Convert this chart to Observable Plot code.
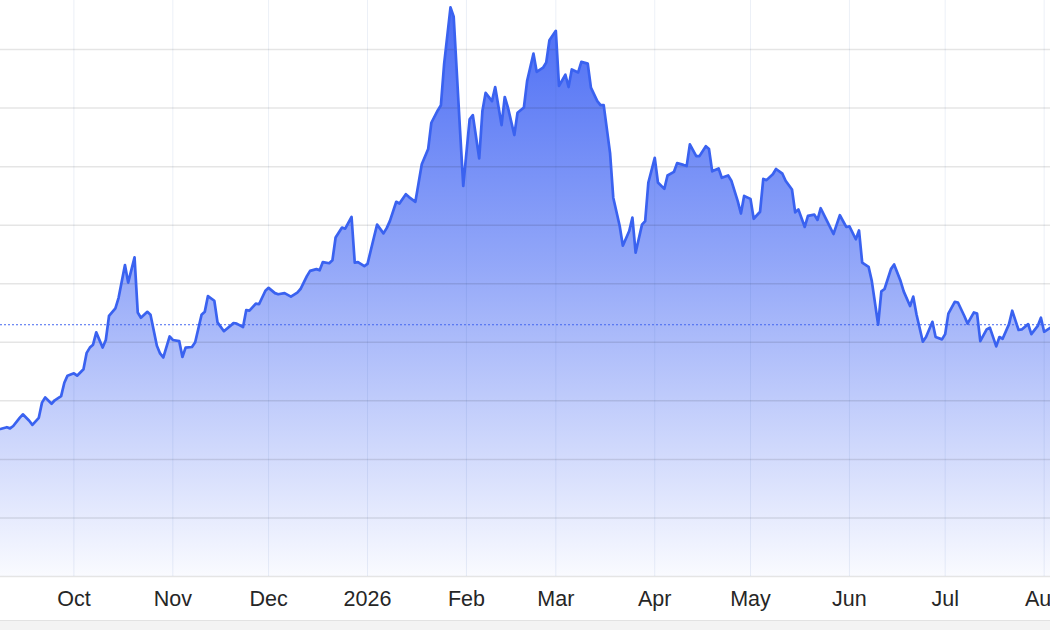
<!DOCTYPE html>
<html>
<head>
<meta charset="utf-8">
<script src="https://cdn.jsdelivr.net/npm/d3@7"></script>
<script src="https://cdn.jsdelivr.net/npm/@observablehq/plot@0.6"></script>
<style>
html, body { margin: 0; padding: 0; background: #fff; overflow: hidden; width: 1050px; height: 630px; }
#chart svg { display: block; }
.band { height: 10px; background: #f3f3f3; border-top: 1px solid #e2e2e2; box-sizing: border-box; }
</style>
</head>
<body>
<div id="chart"></div>
<div class="band"></div>
<script>
// ---- data ----
const dates = [
"2025-09-08","2025-09-10","2025-09-11","2025-09-12","2025-09-14","2025-09-15","2025-09-17","2025-09-18","2025-09-20","2025-09-21",
"2025-09-22","2025-09-24","2025-09-25","2025-09-27","2025-09-28","2025-09-29","2025-10-01","2025-10-02","2025-10-04","2025-10-05",
"2025-10-06","2025-10-07","2025-10-08","2025-10-10","2025-10-11","2025-10-12","2025-10-14","2025-10-15","2025-10-17","2025-10-18",
"2025-10-20","2025-10-21","2025-10-22","2025-10-24","2025-10-25","2025-10-27","2025-10-28","2025-10-29","2025-10-31","2025-11-01",
"2025-11-03","2025-11-04","2025-11-05","2025-11-07","2025-11-08","2025-11-10","2025-11-11","2025-11-12","2025-11-14","2025-11-15",
"2025-11-17","2025-11-19","2025-11-20","2025-11-21","2025-11-23","2025-11-24","2025-11-25","2025-11-27","2025-11-28","2025-11-30",
"2025-12-01","2025-12-03","2025-12-04","2025-12-06","2025-12-07","2025-12-08","2025-12-10","2025-12-11","2025-12-13","2025-12-14",
"2025-12-16","2025-12-17","2025-12-18","2025-12-20","2025-12-21","2025-12-22","2025-12-24","2025-12-25","2025-12-27","2025-12-28",
"2025-12-29","2025-12-31","2026-01-01","2026-01-03","2026-01-04","2026-01-06","2026-01-07","2026-01-08","2026-01-10","2026-01-11",
"2026-01-13","2026-01-14","2026-01-16","2026-01-17","2026-01-18","2026-01-20","2026-01-21","2026-01-23","2026-01-24","2026-01-25",
"2026-01-27","2026-01-28","2026-01-30","2026-01-31","2026-02-02","2026-02-03","2026-02-05","2026-02-06","2026-02-07","2026-02-09",
"2026-02-10","2026-02-12","2026-02-13","2026-02-14","2026-02-16","2026-02-17","2026-02-19","2026-02-20","2026-02-22","2026-02-23",
"2026-02-25","2026-02-26","2026-02-27","2026-03-01","2026-03-02","2026-03-04","2026-03-05","2026-03-06","2026-03-08","2026-03-09",
"2026-03-11","2026-03-12","2026-03-14","2026-03-15","2026-03-16","2026-03-18","2026-03-19","2026-03-21","2026-03-22","2026-03-24",
"2026-03-25","2026-03-26","2026-03-28","2026-03-29","2026-03-30","2026-04-01","2026-04-02","2026-04-04","2026-04-05","2026-04-07",
"2026-04-08","2026-04-10","2026-04-11","2026-04-12","2026-04-14","2026-04-15","2026-04-17","2026-04-18","2026-04-19","2026-04-21",
"2026-04-22","2026-04-24","2026-04-25","2026-04-27","2026-04-28","2026-04-29","2026-05-01","2026-05-02","2026-05-04","2026-05-05",
"2026-05-06","2026-05-08","2026-05-09","2026-05-11","2026-05-12","2026-05-14","2026-05-15","2026-05-16","2026-05-18","2026-05-19",
"2026-05-21","2026-05-22","2026-05-23","2026-05-25","2026-05-27","2026-05-28","2026-05-29","2026-05-31","2026-06-01","2026-06-03",
"2026-06-04","2026-06-05","2026-06-07","2026-06-08","2026-06-10","2026-06-11","2026-06-12","2026-06-14","2026-06-15","2026-06-17",
"2026-06-18","2026-06-20","2026-06-21","2026-06-22","2026-06-24","2026-06-25","2026-06-27","2026-06-28","2026-06-30","2026-07-01",
"2026-07-02","2026-07-04","2026-07-05","2026-07-07","2026-07-08","2026-07-10","2026-07-11","2026-07-12","2026-07-14","2026-07-15",
"2026-07-17","2026-07-18","2026-07-19","2026-07-21","2026-07-22","2026-07-24","2026-07-25","2026-07-27","2026-07-28","2026-07-30",
"2026-07-31","2026-08-01","2026-08-03"
];
const prices = [
25.2,25.5,25.3,25.7,27.1,27.7,26.6,25.9,27.1,29.7,
30.6,29.5,30.1,30.8,33.1,34.3,34.7,34.3,35.4,38.2,
39.1,39.6,41.7,39.1,40.4,44.5,45.8,47.6,53.2,50.2,
54.5,45.1,44.2,45.2,44.7,39.4,38.1,37.4,41.0,40.4,
40.2,37.5,39.1,39.2,40.0,44.7,45.2,47.9,47.1,43.4,
41.9,42.8,43.3,43.2,42.6,45.5,45.4,46.6,46.5,48.8,
49.3,48.4,48.2,48.4,48.1,47.8,48.5,49.1,51.3,52.2,
52.5,52.3,53.7,53.5,54.0,57.9,59.6,59.4,61.4,53.6,
53.7,53.0,53.4,57.9,60.1,58.6,59.5,60.7,64.0,63.7,
65.3,64.8,64.0,67.2,70.4,73.0,77.5,79.6,80.5,87.5,
97.2,95.6,76.1,66.7,78.1,78.8,71.4,79.5,82.6,81.2,
83.6,77.1,81.9,80.1,75.4,79.2,80.1,84.6,89.3,86.2,
86.9,87.8,91.6,93.2,83.8,85.7,83.6,86.6,86.1,87.9,
87.6,83.5,81.2,80.5,80.5,72.3,64.7,59.9,56.5,59.0,
61.3,55.3,60.1,60.7,67.3,71.5,67.3,66.2,68.5,69.1,
70.6,70.3,70.1,73.8,71.8,71.8,73.5,73.0,69.2,69.7,
68.1,68.5,67.6,64.1,62.0,65.0,64.5,61.1,62.3,67.9,
67.7,68.7,69.6,68.8,67.6,66.1,62.2,62.7,59.7,61.6,
61.8,60.9,62.9,60.7,58.5,60.1,61.7,59.7,59.8,57.6,
59.1,53.6,52.9,50.5,43.0,48.7,49.1,52.5,53.3,50.5,
48.7,46.2,47.8,44.8,40.1,40.9,43.5,40.9,40.5,41.4,
44.9,46.9,46.8,44.5,43.2,45.1,44.9,40.2,42.2,42.5,
39.3,40.9,40.6,43.1,45.4,42.1,42.2,43.1,41.4,42.8,
44.2,41.8,42.5
];
const referencePrice = 43.0;
const xDomain = ["2025-09-08", "2026-08-03"];
const yDomain = [0, 98.38];
const monthTicks = ["2025-10-01","2025-11-01","2025-12-01","2026-01-01","2026-02-01","2026-03-01","2026-04-01","2026-05-01","2026-06-01","2026-07-01","2026-08-01"];
const monthLabels = ["Oct","Nov","Dec","2026","Feb","Mar","Apr","May","Jun","Jul","Aug"];
const gridValues = [0,10,20,30,40,50,60,70,80,90];

// ---- build ----
const data = dates.map((d, i) => ({date: new Date(d), price: prices[i]}));
const tickDates = monthTicks.map(d => new Date(d));

const chart = Plot.plot({
  width: 1050,
  height: 620,
  marginTop: 0,
  marginRight: 0,
  marginLeft: 0,
  marginBottom: 44,
  style: {fontFamily: "'Liberation Sans', Arial, Helvetica, sans-serif", background: "#fff"},
  x: {type: "utc", domain: xDomain.map(d => new Date(d)), axis: null},
  y: {domain: yDomain, axis: null},
  marks: [
    Plot.areaY(data, {x: "date", y: "price", fill: "url(#areaGrad)"}),
    Plot.ruleX(tickDates, {stroke: "#2f5aa8", strokeOpacity: 0.09, strokeWidth: 1}),
    Plot.ruleY(gridValues, {stroke: "#000", strokeOpacity: 0.1, strokeWidth: 1.5}),
    Plot.ruleY([referencePrice], {stroke: "#4468f0", strokeWidth: 1, strokeDasharray: "2,2"}),
    Plot.line(data, {x: "date", y: "price", stroke: "#3a62f0", strokeWidth: 2.7, strokeLinejoin: "round"}),
    Plot.text(monthLabels, {x: tickDates, text: monthLabels, frameAnchor: "bottom", dy: 29, fontSize: 21.5, fill: "#262626"})
  ]
});

const defs = d3.select(chart).insert("defs", ":first-child");
const grad = defs.append("linearGradient").attr("id", "areaGrad")
  .attr("x1", 0).attr("y1", 0).attr("x2", 0).attr("y2", 1);
grad.append("stop").attr("offset", "0%").attr("stop-color", "#4a6cf4").attr("stop-opacity", 1);
grad.append("stop").attr("offset", "45%").attr("stop-color", "#4a6cf4").attr("stop-opacity", 0.6);
grad.append("stop").attr("offset", "100%").attr("stop-color", "#4a6cf4").attr("stop-opacity", 0.03);

document.getElementById("chart").appendChild(chart);
</script>
</body>
</html>
